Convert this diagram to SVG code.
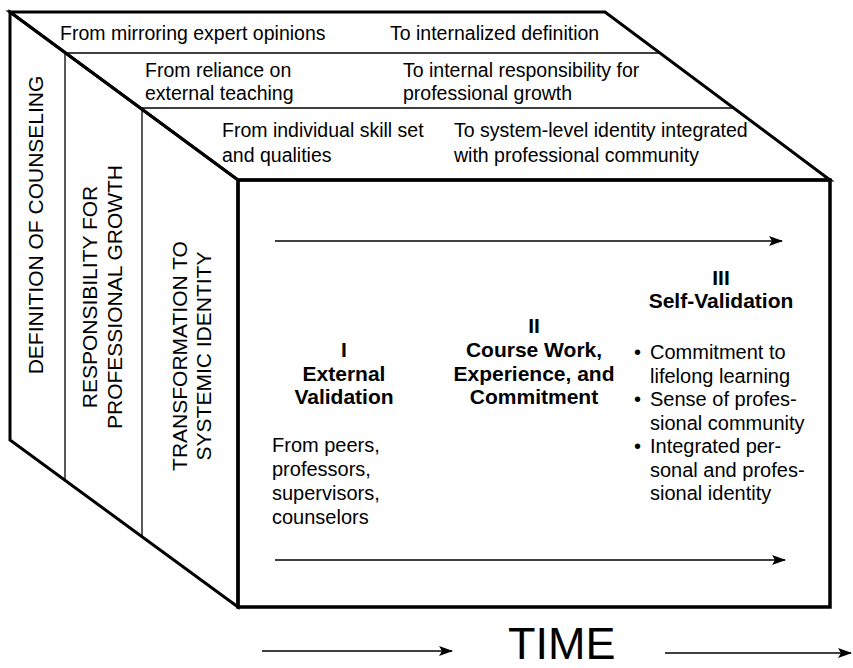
<svg xmlns="http://www.w3.org/2000/svg" width="853" height="668" viewBox="0 0 853 668">
  <style>
    .thick { stroke: #000; stroke-width: 3; fill: none; stroke-linejoin: miter; }
    .thin { stroke: #000; stroke-width: 1.3; fill: none; }
    .t { font-family: "Liberation Sans", Arial, sans-serif; font-size: 19.5px; fill: #000; }
    .f { font-family: "Liberation Sans", Arial, sans-serif; font-size: 20px; fill: #000; }
    .b { font-family: "Liberation Sans", Arial, sans-serif; font-size: 21px; font-weight: bold; fill: #000; text-anchor: middle; }
    .v { font-family: "Liberation Sans", Arial, sans-serif; font-size: 21px; fill: #000; text-anchor: middle; }
    .time { font-family: "Liberation Sans", Arial, sans-serif; font-size: 45px; fill: #000; }
    .arr { stroke: #000; stroke-width: 1.5; fill: none; marker-end: url(#ah); }
  </style>
  <defs>
    <marker id="ah" viewBox="0 0 14 10" refX="13" refY="5" markerWidth="14" markerHeight="10" markerUnits="userSpaceOnUse" orient="auto">
      <path d="M0,0 L14,5 L0,10 L3,5 Z" fill="#000"/>
    </marker>
  </defs>
  <rect width="853" height="668" fill="#fff"/>

  <g id="top-face">
    <polygon class="thick" points="10,12 605,12 830,180 238,180"/>
    <line class="thin" x1="65" y1="53" x2="659" y2="53"/>
    <line class="thin" x1="141" y1="108" x2="733" y2="108"/>
  </g>
  <g id="left-face">
    <polygon class="thick" points="10,12 238,180 238,607 10,440"/>
    <line class="thin" x1="65" y1="53" x2="65" y2="480"/>
    <line class="thin" x1="142" y1="108" x2="142" y2="537"/>
  </g>
  <g id="front-face">
    <rect class="thick" x="238" y="180" width="592" height="427" style="stroke-width:3.5"/>
  </g>

  <g id="row-definition">
    <text class="t" x="60" y="40">From mirroring expert opinions</text>
    <text class="t" x="390" y="40">To internalized definition</text>
    <text class="v" transform="translate(43,225) rotate(-90)">DEFINITION OF COUNSELING</text>
  </g>
  <g id="row-responsibility">
    <text class="t" x="145" y="77">From reliance on</text>
    <text class="t" x="145" y="100">external teaching</text>
    <text class="t" x="403" y="77">To internal responsibility for</text>
    <text class="t" x="403" y="100">professional growth</text>
    <text class="v" transform="translate(97,297) rotate(-90)">RESPONSIBILITY FOR</text>
    <text class="v" transform="translate(122,297) rotate(-90)">PROFESSIONAL GROWTH</text>
  </g>
  <g id="row-transformation">
    <text class="t" x="222" y="137">From individual skill set</text>
    <text class="t" x="222" y="162">and qualities</text>
    <text class="t" x="454" y="137">To system-level identity integrated</text>
    <text class="t" x="454" y="162">with professional community</text>
    <text class="v" transform="translate(187,356) rotate(-90)">TRANSFORMATION TO</text>
    <text class="v" transform="translate(211,356) rotate(-90)">SYSTEMIC IDENTITY</text>
  </g>

  <g id="stage-1">
    <text class="b" x="344" y="357">I</text>
    <text class="b" x="344" y="381">External</text>
    <text class="b" x="344" y="404">Validation</text>
    <text class="f" x="272" y="452">From peers,</text>
    <text class="f" x="272" y="476">professors,</text>
    <text class="f" x="272" y="500">supervisors,</text>
    <text class="f" x="272" y="524">counselors</text>
  </g>
  <g id="stage-2">
    <text class="b" x="534" y="333">II</text>
    <text class="b" x="534" y="357">Course Work,</text>
    <text class="b" x="534" y="381">Experience, and</text>
    <text class="b" x="534" y="404">Commitment</text>
  </g>
  <g id="stage-3">
    <text class="b" x="721" y="285">III</text>
    <text class="b" x="721" y="308">Self-Validation</text>
    <text class="f" x="634" y="359">•</text>
    <text class="f" x="650" y="359">Commitment to</text>
    <text class="f" x="650" y="382.5">lifelong learning</text>
    <text class="f" x="634" y="406">•</text>
    <text class="f" x="650" y="406">Sense of profes-</text>
    <text class="f" x="650" y="429.5">sional community</text>
    <text class="f" x="634" y="453">•</text>
    <text class="f" x="650" y="453">Integrated per-</text>
    <text class="f" x="650" y="476.5">sonal and profes-</text>
    <text class="f" x="650" y="500">sional identity</text>
  </g>
  <g id="time-label">
    <text class="time" x="508" y="659">TIME</text>
  </g>

  <g id="connectors">
    <line class="arr" x1="275" y1="241" x2="782" y2="241"/>
    <line class="arr" x1="275" y1="560" x2="785" y2="560"/>
    <line class="arr" x1="262" y1="651" x2="452" y2="651"/>
    <line class="arr" x1="665" y1="653" x2="851" y2="653"/>
  </g>
</svg>
